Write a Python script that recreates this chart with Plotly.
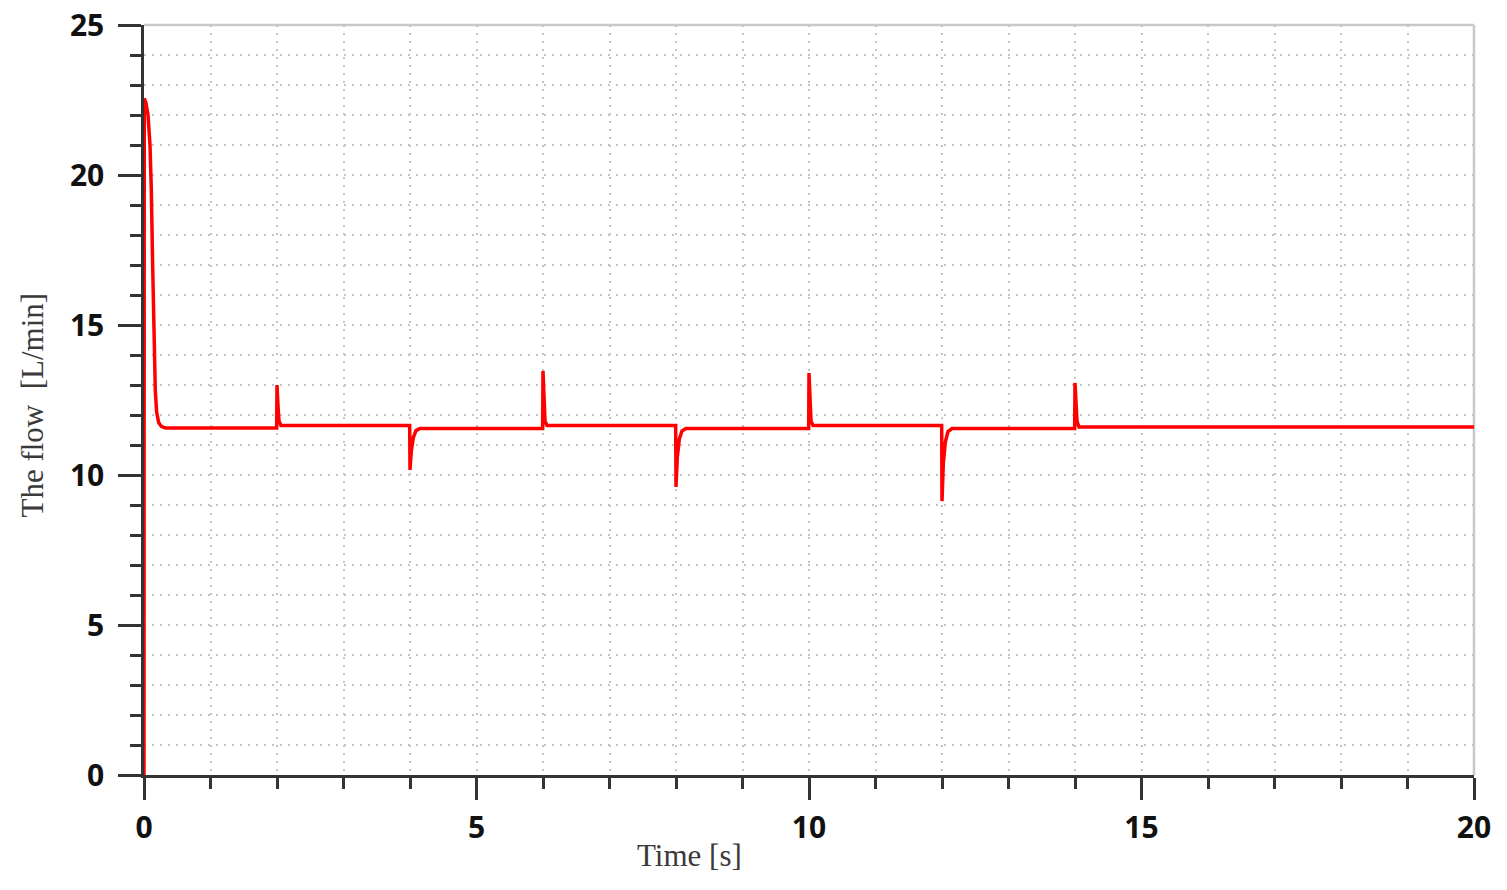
import plotly.graph_objects as go

# Time [s] samples
time_s = [
    0.0, 0.004, 0.03, 0.06, 0.09, 0.11, 0.13, 0.15, 0.17, 0.19, 0.22, 0.26, 0.32,
    1.995, 2.0, 2.015, 2.03, 2.06,
    3.995, 4.0, 4.02, 4.05, 4.09, 4.15,
    5.995, 6.0, 6.015, 6.03, 6.06,
    7.995, 8.0, 8.02, 8.05, 8.09, 8.15,
    9.995, 10.0, 10.015, 10.03, 10.06,
    11.995, 12.0, 12.02, 12.05, 12.09, 12.15,
    13.995, 14.0, 14.015, 14.03, 14.06,
    20.0,
]
# Flow [L/min] samples
flow_lpm = [
    0.0, 22.55, 22.4, 22.0, 21.0, 19.5, 17.0, 14.5, 12.8, 12.1, 11.75, 11.62, 11.57,
    11.57, 13.0, 12.3, 11.8, 11.65,
    11.65, 10.17, 10.8, 11.25, 11.48, 11.55,
    11.55, 13.47, 12.4, 11.8, 11.65,
    11.65, 9.6, 10.6, 11.2, 11.47, 11.55,
    11.55, 13.4, 12.4, 11.8, 11.65,
    11.65, 9.13, 10.4, 11.1, 11.45, 11.55,
    11.55, 13.07, 12.3, 11.8, 11.6,
    11.6,
]

x_ticks = [0, 5, 10, 15, 20]
y_ticks = [0, 5, 10, 15, 20, 25]
x_title = "Time [s]"
y_title = "The flow  [L/min]"

fig = go.Figure()
fig.add_trace(go.Scatter(
    x=time_s, y=flow_lpm, mode="lines",
    line=dict(color="#ff0000", width=3.5),
    showlegend=False, hoverinfo="skip",
))

tick_font = dict(family="Open Sans", size=30, color="#111111", weight="bold")
title_font = dict(family="Liberation Serif", size=31, color="#3a3a3a")
grid_kw = dict(showgrid=True, gridcolor="#c4c4c4", gridwidth=2, griddash="2px,6px")

fig.update_xaxes(
    range=[0, 20], tickvals=x_ticks, ticks="outside", ticklen=22, tickwidth=2.5,
    tickcolor="#333333", showline=True, linecolor="#333333", linewidth=2.5,
    tickfont=tick_font, ticklabelstandoff=2, zeroline=False, automargin=False,
    ticklabeloverflow="allow",
    minor=dict(dtick=1, ticks="outside", ticklen=11, tickwidth=2.5,
               tickcolor="#333333", **grid_kw),
    layer="below traces", **grid_kw,
)
fig.update_yaxes(
    range=[0, 25], tickvals=y_ticks, ticks="outside", ticklen=23, tickwidth=2.5,
    tickcolor="#333333", showline=True, linecolor="#333333", linewidth=2.5,
    tickfont=tick_font, ticklabelstandoff=8, zeroline=False, automargin=False,
    ticklabeloverflow="allow",
    minor=dict(dtick=1, ticks="outside", ticklen=11, tickwidth=2.5,
               tickcolor="#333333", **grid_kw),
    layer="below traces", **grid_kw,
)

# axis titles
fig.add_annotation(text=x_title, xref="paper", yref="paper", x=0.41, y=-0.107,
                   showarrow=False, font=title_font, xanchor="center", yanchor="middle")
fig.add_annotation(text=y_title, xref="paper", yref="paper", x=-0.084, y=0.493,
                   showarrow=False, font=title_font, textangle=-90,
                   xanchor="center", yanchor="middle")

# light grey frame on the top and right edges
fig.add_shape(type="line", xref="paper", yref="paper", x0=0, x1=1, y0=1, y1=1,
              line=dict(color="#c8c8c8", width=2.5), layer="below")
fig.add_shape(type="line", xref="paper", yref="paper", x0=1, x1=1, y0=0, y1=1,
              line=dict(color="#c8c8c8", width=2.5), layer="below")

fig.update_layout(
    width=1507, height=890,
    margin=dict(l=144, r=33, t=25, b=115),
    plot_bgcolor="white", paper_bgcolor="white",
    hovermode=False,
)

fig.write_html("out.html", config={"displayModeBar": False},
               post_script="document.body.style.margin='0';document.body.style.overflow='hidden';")
